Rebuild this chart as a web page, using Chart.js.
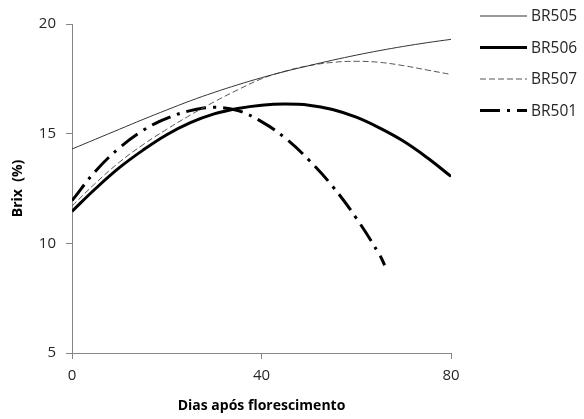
<!DOCTYPE html>
<html>
<head>
<meta charset="utf-8">
<script src="https://cdn.jsdelivr.net/npm/chart.js@4"></script>
<style>
  html, body { margin: 0; padding: 0; background: #fff; }
  #wrap { width: 584px; height: 419px; position: relative; }
</style>
</head>
<body>
<div id="wrap"><canvas id="c" width="584" height="419"></canvas></div>
<script>
// Days after flowering (x values)
const days = [0, 5, 10, 15, 20, 25, 30, 35, 40, 45, 50, 55, 60, 65, 70, 75, 80];
const daysBR501 = [0, 5, 10, 15, 20, 25, 30, 35, 40, 45, 50, 55, 60, 65, 66];

const seriesLabels = ["BR505", "BR506", "BR507", "BR501"];

// Brix (%) values
const br505 = [14.3, 14.75, 15.2, 15.65, 16.08, 16.5, 16.88, 17.23, 17.55, 17.84, 18.1, 18.35, 18.58, 18.79, 18.98, 19.15, 19.3];
const br506 = [11.46, 12.5, 13.45, 14.25, 14.95, 15.5, 15.9, 16.15, 16.3, 16.35, 16.3, 16.1, 15.75, 15.25, 14.65, 13.9, 13.05];
const br507 = [11.7, 12.75, 13.7, 14.5, 15.2, 15.85, 16.45, 17.0, 17.5, 17.85, 18.1, 18.25, 18.3, 18.25, 18.1, 17.9, 17.7];
const br501 = [11.95, 13.3, 14.35, 15.15, 15.7, 16.05, 16.2, 16.05, 15.55, 14.8, 13.8, 12.6, 11.15, 9.45, 9.0];

const xTicks = [0, 40, 80];
const yTicks = [5, 10, 15, 20];

function pts(xs, ys) { return xs.map((x, i) => ({ x: x, y: ys[i] })); }

const FONT = "'Open Sans', 'Liberation Sans', sans-serif";

const legendPlugin = {
  id: 'customLegend',
  afterDraw(chart) {
    const ctx = chart.ctx;
    const rows = [16, 47.5, 79, 110.5];
    chart.data.datasets.forEach((ds, i) => {
      const y = rows[i];
      ctx.save();
      ctx.strokeStyle = ds.borderColor;
      ctx.lineWidth = ds.borderWidth;
      ctx.setLineDash(ds.borderDash || []);
      ctx.beginPath();
      ctx.moveTo(480, y);
      ctx.lineTo(527, y);
      ctx.stroke();
      ctx.setLineDash([]);
      ctx.fillStyle = '#262626';
      ctx.font = "15.5px " + FONT;
      ctx.textBaseline = 'middle';
      ctx.textAlign = 'left';
      ctx.fillText(ds.label, 531, y + 1);
      ctx.restore();
    });
  }
};

new Chart(document.getElementById('c'), {
  type: 'line',
  data: {
    datasets: [
      { label: seriesLabels[0], data: pts(days, br505), borderColor: '#333333', borderWidth: 1, borderDash: [], pointRadius: 0, tension: 0.4, fill: false },
      { label: seriesLabels[1], data: pts(days, br506), borderColor: '#000000', borderWidth: 3, borderDash: [], pointRadius: 0, tension: 0.4, fill: false },
      { label: seriesLabels[2], data: pts(days, br507), borderColor: '#555555', borderWidth: 1, borderDash: [6, 3], pointRadius: 0, tension: 0.4, fill: false },
      { label: seriesLabels[3], data: pts(daysBR501, br501), borderColor: '#000000', borderWidth: 3, borderDash: [20, 7, 3, 7], pointRadius: 0, tension: 0.4, fill: false }
    ]
  },
  options: {
    responsive: false,
    animation: false,
    devicePixelRatio: 1,
    layout: { padding: { left: 0, right: 133, top: 24, bottom: 0 } },
    plugins: { legend: { display: false }, tooltip: { enabled: false } },
    scales: {
      x: {
        type: 'linear', min: 0, max: 80,
        afterBuildTicks(scale) { scale.ticks = xTicks.map(v => ({ value: v })); },
        afterFit(scale) { scale.height = 66; },
        grid: { display: true, drawOnChartArea: false, drawTicks: true, tickLength: 6, color: '#868686' },
        border: { display: true, color: '#868686', width: 1 },
        ticks: { color: '#262626', font: { family: FONT, size: 15 }, padding: 8, maxRotation: 0 },
        title: { display: true, text: 'Dias após florescimento', color: '#000', font: { family: FONT, size: 14, weight: 'bold' }, padding: { top: 0, bottom: 5 } }
      },
      y: {
        type: 'linear', min: 5, max: 20,
        afterBuildTicks(scale) { scale.ticks = yTicks.map(v => ({ value: v })); },
        afterFit(scale) { scale.width = 72; },
        grid: { display: true, drawOnChartArea: false, drawTicks: true, tickLength: 6, color: '#868686' },
        border: { display: true, color: '#868686', width: 1 },
        ticks: { color: '#262626', font: { family: FONT, size: 15 }, padding: 10 },
        title: { display: true, text: 'Brix  (%)', color: '#000', font: { family: FONT, size: 14, weight: 'bold' }, padding: { top: 10, bottom: 0 } }
      }
    }
  },
  plugins: [legendPlugin]
});
</script>
</body>
</html>
